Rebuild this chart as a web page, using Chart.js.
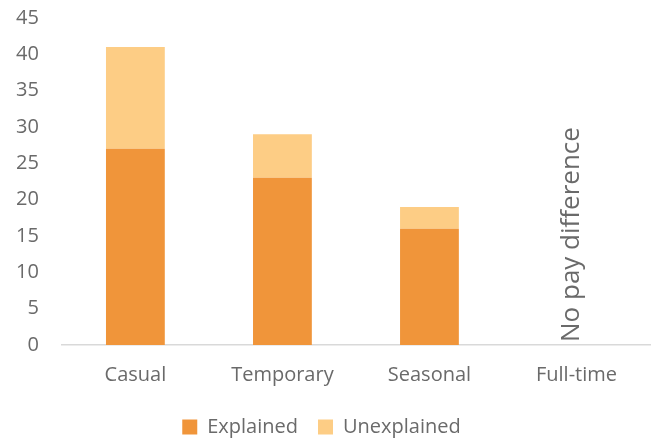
<!DOCTYPE html>
<html>
<head>
<meta charset="utf-8">
<script src="https://cdn.jsdelivr.net/npm/chart.js@4.4.0/dist/chart.umd.min.js"></script>
<style>
  html, body { margin: 0; padding: 0; background: #fff; }
  #wrap { width: 658px; height: 440px; }
</style>
</head>
<body>
<div id="wrap"><canvas id="chart" width="658" height="440"></canvas></div>
<script>
var categories = ['Casual', 'Temporary', 'Seasonal', 'Full-time'];
var explained = [27, 23, 16, 0];
var unexplained = [14, 6, 3, 0];
var yTicks = [0, 5, 10, 15, 20, 25, 30, 35, 40, 45];
var noteCategory = 'Full-time';
var noteText = 'No pay difference';

// writes the rotated note above the Full-time category
var notePlugin = {
    id: 'note',
    afterDatasetsDraw: function(chart) {
        var ctx = chart.ctx;
        var x = chart.scales.x.getPixelForValue(categories.indexOf(noteCategory));
        var y = chart.scales.y.getPixelForValue(0);
        ctx.save();
        ctx.translate(x - 5, y - 3);
        ctx.rotate(-Math.PI / 2);
        ctx.font = '26px "Open Sans", sans-serif';
        ctx.fillStyle = '#6A6A6A';
        ctx.textAlign = 'left';
        ctx.textBaseline = 'middle';
        ctx.fillText(noteText, 0, 0);
        ctx.restore();
    }
};

var ctx = document.getElementById('chart').getContext('2d');
new Chart(ctx, {
    type: 'bar',
    data: {
        labels: categories,
        datasets: [
            {
                label: 'Explained',
                data: explained,
                backgroundColor: '#F0953A',
                borderWidth: 0
            },
            {
                label: 'Unexplained',
                data: unexplained,
                backgroundColor: '#FDCD85',
                borderWidth: 0
            }
        ]
    },
    options: {
        responsive: false,
        animation: false,
        layout: { padding: { left: -7, right: 8, top: 0, bottom: -7 } },
        categoryPercentage: 0.8,
        barPercentage: 0.5,
        scales: {
            x: {
                stacked: true,
                afterFit: function(axis) {
                    axis.height -= 8;
                },
                grid: { display: false, drawTicks: false },
                border: { display: true, color: '#D9D9D9', width: 1.5 },
                ticks: {
                    color: '#6A6A6A',
                    font: { family: '"Open Sans", sans-serif', size: 20 },
                    padding: 18
                }
            },
            y: {
                stacked: true,
                min: 0,
                max: 45,
                afterBuildTicks: function(axis) {
                    axis.ticks = yTicks.map(function(v) { return { value: v }; });
                },
                // tick padding otherwise also pads the top of the plot
                afterFit: function(axis) {
                    axis.paddingTop = 18;
                    axis.paddingBottom = 0;
                },
                grid: { display: false, drawTicks: false },
                border: { display: false },
                ticks: {
                    color: '#6A6A6A',
                    font: { family: '"Open Sans", sans-serif', size: 20 },
                    padding: 23
                }
            }
        },
        plugins: {
            legend: {
                position: 'bottom',
                labels: {
                    color: '#6A6A6A',
                    font: { family: '"Open Sans", sans-serif', size: 20 },
                    boxWidth: 15,
                    boxHeight: 15,
                    padding: 20
                }
            },
            tooltip: { enabled: false }
        }
    },
    plugins: [notePlugin]
});
</script>
</body>
</html>
